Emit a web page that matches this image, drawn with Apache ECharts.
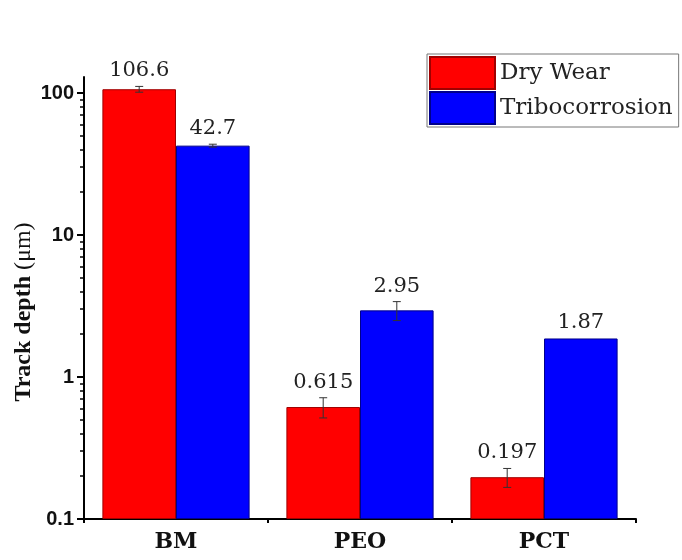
<!DOCTYPE html>
<html>
<head>
<meta charset="utf-8">
<script src="https://cdn.jsdelivr.net/npm/echarts@6/dist/echarts.min.js"></script>
<style>
  html, body { margin: 0; padding: 0; background: #fff; }
  #chart { width: 682px; height: 560px; }
</style>
</head>
<body>
<div id="chart"></div>
<script>
// Track depth per surface condition (μm)
const categories = ['BM', 'PEO', 'PCT'];
const dryWear = [106.6, 0.615, 0.197];
const dryWearErr = [5, 0.1, 0.03];
const tribocorrosion = [42.7, 2.95, 1.87];
const tribocorrosionErr = [1, 0.45, 0];

// Log axis ticks
const yMajorTicks = [0.1, 1, 10, 100];
const yMinorTicks = [0.2, 0.3, 0.4, 0.5, 0.6, 0.7, 0.8, 0.9,
                     2, 3, 4, 5, 6, 7, 8, 9,
                     20, 30, 40, 50, 60, 70, 80, 90];

const RED = '#ff0000';
const BLUE = '#0000ff';
const serif = '"DejaVu Serif", serif';

// Error bar + value label drawn over each bar
function errorSeries(name, values, errs, offset) {
  return {
    type: 'custom',
    name: name + ' error',
    z: 5,
    clip: false,
    silent: true,
    data: values.map((v, i) => [i, v, errs[i]]),
    renderItem: function (params, api) {
      const idx = api.value(0), v = api.value(1), e = api.value(2);
      const band = api.size([1, 1])[0];
      const c = api.coord([idx, v]);
      const x = c[0] + offset * band;
      const yTop = api.coord([idx, v + e])[1];
      const yBot = api.coord([idx, v - e])[1];
      const cap = 4;
      const children = [];
      if (e > 0) {
        const ls = { stroke: '#333', lineWidth: 1 };
        children.push({ type: 'line', shape: { x1: x, y1: yTop, x2: x, y2: yBot }, style: ls });
        children.push({ type: 'line', shape: { x1: x - cap, y1: yTop, x2: x + cap, y2: yTop }, style: ls });
        children.push({ type: 'line', shape: { x1: x - cap, y1: yBot, x2: x + cap, y2: yBot }, style: ls });
      }
      children.push({
        type: 'text',
        style: {
          text: String(v), x: x, y: Math.min(yTop, c[1]) - 5,
          fill: '#222', font: '21px ' + serif,
          align: 'center', verticalAlign: 'bottom'
        }
      });
      return { type: 'group', children: children };
    }
  };
}

const chart = echarts.init(document.getElementById('chart'));
chart.setOption({
  animation: false,
  backgroundColor: '#fff',
  grid: { left: 84, right: 46, top: 77, bottom: 41 },
  legend: {
    left: 427, top: 54,
    orient: 'vertical',
    icon: 'rect',
    itemWidth: 65, itemHeight: 32, itemGap: 1,
    padding: [2, 6, 2, 2],
    borderColor: '#777', borderWidth: 1,
    textStyle: { fontFamily: serif, fontSize: 23, color: '#222' },
    data: ['Dry Wear', 'Tribocorrosion']
  },
  xAxis: {
    type: 'category',
    data: categories,
    axisLine: { lineStyle: { color: '#000', width: 2 } },
    axisTick: { alignWithLabel: true, length: 7, lineStyle: { color: '#000', width: 2 } },
    axisLabel: { color: '#111', fontFamily: serif, fontWeight: 'bold', fontSize: 22, margin: 12 }
  },
  yAxis: {
    type: 'log',
    logBase: 10,
    min: 0.1,
    max: 130,
    startValue: 0.1,
    axisLine: { show: true, lineStyle: { color: '#000', width: 2 } },
    axisTick: { show: false },
    splitLine: { show: false },
    axisLabel: {
      margin: 10,
      color: '#111',
      fontFamily: '"Liberation Sans", Arial, sans-serif',
      fontWeight: 'bold',
      fontSize: 20,
      showMaxLabel: false,
      formatter: function (v) {
        const hit = yMajorTicks.find(t => Math.abs(t - v) / t < 1e-6);
        return hit !== undefined ? String(hit) : '';
      }
    }
  },
  series: [
    {
      name: 'Dry Wear', type: 'bar', data: dryWear,
      barGap: '0%', barCategoryGap: '20%',
      itemStyle: { color: RED, borderColor: '#a00000', borderWidth: 1 }
    },
    {
      name: 'Tribocorrosion', type: 'bar', data: tribocorrosion,
      barGap: '0%', barCategoryGap: '20%',
      itemStyle: { color: BLUE, borderColor: '#00008b', borderWidth: 1 }
    },
    errorSeries('Dry Wear', dryWear, dryWearErr, -0.2),
    errorSeries('Tribocorrosion', tribocorrosion, tribocorrosionErr, 0.2)
  ]
});

// Axis title and the log-axis / category-boundary ticks, placed through the axis scales
const xa = chart.convertToPixel({ xAxisIndex: 0 }, 0);
const xb = chart.convertToPixel({ xAxisIndex: 0 }, 1);
const band = xb - xa;
const x0 = xa - band / 2;
const yBase = chart.convertToPixel({ yAxisIndex: 0 }, yMajorTicks[0]);
const graphics = [{
  id: 'ytitle',
  type: 'text',
  x: 24, y: 312,
  rotation: Math.PI / 2,
  style: {
    text: '{b|Track depth }{r|(μm)}',
    align: 'center', verticalAlign: 'middle',
    rich: {
      b: { fontFamily: '"Liberation Serif", serif', fontWeight: 'bold', fontSize: 24, fill: '#111' },
      r: { fontFamily: '"Liberation Serif", serif', fontWeight: 'normal', fontSize: 24, fill: '#111' }
    }
  }
}];
yMajorTicks.forEach((t, i) => {
  const y = Math.round(chart.convertToPixel({ yAxisIndex: 0 }, t));
  graphics.push({ id: 'ymaj' + i, type: 'line', z: 100,
    shape: { x1: x0 - 7, y1: y, x2: x0, y2: y }, style: { stroke: '#000', lineWidth: 2 } });
});
yMinorTicks.forEach((t, i) => {
  const y = Math.round(chart.convertToPixel({ yAxisIndex: 0 }, t));
  graphics.push({ id: 'ymin' + i, type: 'line', z: 100,
    shape: { x1: x0 - 4, y1: y, x2: x0, y2: y }, style: { stroke: '#000', lineWidth: 1.5 } });
});
for (let i = 0; i <= categories.length; i++) {
  const x = Math.round(x0 + i * band);
  graphics.push({ id: 'xb' + i, type: 'line', z: 100,
    shape: { x1: x, y1: yBase, x2: x, y2: yBase + 4 }, style: { stroke: '#000', lineWidth: 2 } });
}
chart.setOption({ graphic: graphics });
</script>
</body>
</html>
